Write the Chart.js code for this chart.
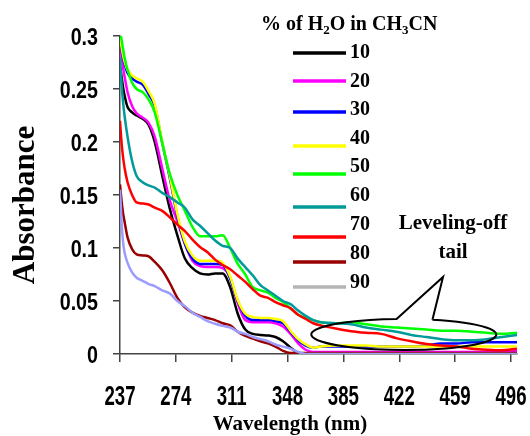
<!DOCTYPE html>
<html>
<head>
<meta charset="utf-8">
<script src="https://cdn.jsdelivr.net/npm/chart.js@4.4.0/dist/chart.umd.min.js"></script>
<style>
  html, body { margin: 0; padding: 0; background: #fff; }
  #wrap { width: 530px; height: 436px; }
</style>
</head>
<body>
<div id="wrap"><canvas id="spectra" width="530" height="436"></canvas></div>
<script>
// UV-vis spectra, absorbance vs wavelength for water/acetonitrile mixtures
const wavelengths = [237, 238, 239, 240, 242, 245, 248, 252, 256, 260,
  265, 270, 275, 280, 285, 290, 295, 300, 305, 310,
  315, 320, 325, 330, 335, 340, 345, 350, 355, 360,
  365, 370, 380, 390, 400, 410, 420, 430, 440, 450,
  460, 470, 480, 490, 500];

const water10 = [0.272, 0.262, 0.252, 0.244, 0.233, 0.228, 0.225, 0.222, 0.216, 0.200,
  0.168, 0.137, 0.112, 0.090, 0.081, 0.076, 0.075, 0.076, 0.076, 0.063,
  0.038, 0.023, 0.019, 0.018, 0.0175, 0.016, 0.012, 0.006, 0.001, 0,
  0, 0, 0, 0, 0, 0, 0, 0, 0, 0,
  0, 0, 0, 0, 0];
const water20 = [0.300, 0.282, 0.270, 0.262, 0.247, 0.234, 0.227, 0.223, 0.218, 0.205,
  0.175, 0.145, 0.125, 0.104, 0.088, 0.083, 0.082, 0.082, 0.081, 0.072,
  0.048, 0.032, 0.030, 0.030, 0.030, 0.029, 0.026, 0.019, 0.010, 0.004,
  0.002, 0.002, 0.002, 0.002, 0.002, 0.002, 0.002, 0.002, 0.002, 0.002,
  0.002, 0.002, 0.002, 0.002, 0.003];
const water30 = [0.300, 0.288, 0.280, 0.274, 0.265, 0.260, 0.257, 0.254, 0.245, 0.234,
  0.199, 0.166, 0.130, 0.104, 0.090, 0.085, 0.085, 0.085, 0.084, 0.071,
  0.050, 0.036, 0.032, 0.032, 0.032, 0.031, 0.029, 0.021, 0.013, 0.008,
  0.006, 0.007, 0.007, 0.007, 0.007, 0.007, 0.007, 0.007, 0.008, 0.010,
  0.010, 0.011, 0.011, 0.011, 0.011];
const water40 = [0.300, 0.290, 0.282, 0.276, 0.268, 0.263, 0.260, 0.257, 0.248, 0.236,
  0.200, 0.168, 0.132, 0.106, 0.093, 0.088, 0.088, 0.088, 0.086, 0.073,
  0.051, 0.038, 0.035, 0.034, 0.034, 0.033, 0.031, 0.022, 0.014, 0.009,
  0.006, 0.007, 0.008, 0.008, 0.008, 0.007, 0.007, 0.007, 0.007, 0.007,
  0.007, 0.007, 0.007, 0.007, 0.007];
const water50 = [0.306, 0.297, 0.288, 0.280, 0.268, 0.256, 0.250, 0.247, 0.240, 0.228,
  0.199, 0.170, 0.150, 0.135, 0.120, 0.111, 0.111, 0.111, 0.112, 0.100,
  0.085, 0.075, 0.063, 0.060, 0.058, 0.053, 0.049, 0.043, 0.037, 0.034,
  0.032, 0.030, 0.029, 0.030, 0.028, 0.026, 0.025, 0.024, 0.023, 0.022,
  0.022, 0.021, 0.020, 0.019, 0.020];
const water60 = [0.280, 0.255, 0.238, 0.225, 0.205, 0.182, 0.168, 0.162, 0.159, 0.157,
  0.152, 0.148, 0.143, 0.138, 0.127, 0.121, 0.114, 0.107, 0.102, 0.100,
  0.090, 0.082, 0.074, 0.065, 0.060, 0.055, 0.050, 0.047, 0.041, 0.036,
  0.032, 0.030, 0.029, 0.028, 0.025, 0.023, 0.021, 0.018, 0.016, 0.014,
  0.013, 0.013, 0.014, 0.016, 0.018];
const water70 = [0.220, 0.200, 0.186, 0.176, 0.162, 0.150, 0.143, 0.142, 0.141, 0.138,
  0.135, 0.129, 0.122, 0.116, 0.108, 0.101, 0.096, 0.089, 0.084, 0.080,
  0.074, 0.068, 0.061, 0.055, 0.053, 0.049, 0.046, 0.043, 0.037, 0.033,
  0.029, 0.027, 0.024, 0.0215, 0.020, 0.019, 0.015, 0.012, 0.0095, 0.008,
  0.007, 0.005, 0.004, 0.0035, 0.005];
const water80 = [0.160, 0.145, 0.133, 0.125, 0.110, 0.099, 0.094, 0.093, 0.092, 0.087,
  0.079, 0.067, 0.053, 0.044, 0.039, 0.036, 0.034, 0.032, 0.029, 0.027,
  0.021, 0.017, 0.0145, 0.012, 0.010, 0.007, 0.003, 0.001, 0.001, 0.001,
  0.001, 0.001, 0.001, 0.001, 0.001, 0.001, 0.001, 0.001, 0.001, 0.001,
  0.001, 0.001, 0.001, 0.001, 0.001];
const water90 = [0.155, 0.125, 0.106, 0.096, 0.086, 0.077, 0.072, 0.069, 0.066, 0.064,
  0.060, 0.057, 0.050, 0.045, 0.039, 0.035, 0.031, 0.0285, 0.0265, 0.025,
  0.021, 0.019, 0.016, 0.014, 0.012, 0.009, 0.007, 0.005, 0.002, 0,
  0, 0, 0, 0, 0, 0, 0, 0, 0, 0,
  0, 0, 0, 0, 0];

const seriesNames = ['10', '20', '30', '40', '50', '60', '70', '80', '90'];
const seriesValues = [water10, water20, water30, water40, water50, water60, water70, water80, water90];
const lineColors = ['#000000', '#ff00ff', '#0000ff', '#ffff00', '#00ff00', '#009a9a', '#ff0000', '#990000', '#9c9cff'];
const keyColors = ['#000000', '#ff00ff', '#0000ff', '#ffff00', '#00ff00', '#009a9a', '#ff0000', '#990000', '#b4b4b4'];

const xTicks = [237, 274, 311, 348, 385, 422, 459, 496];
const yTicks = [0, 0.05, 0.1, 0.15, 0.2, 0.25, 0.3];

// speech-bubble around the flat tail, in data units
const bubbleCenter = [425, 0.0184];
const bubbleRadius = [61.3, 0.0147];
const bubbleTip = [451, 0.0726];

const serif = '"Liberation Serif", "Times New Roman", serif';
const sans = '"Liberation Sans", Arial, sans-serif';

// hand-placed key: number baselines and swatch rows
const keyTextY = [58, 87, 115, 144, 172, 201, 230, 259, 288];
const keyLineY = [53, 81, 112, 146, 174, 207, 237, 262, 287];

// condensed tick text: bold sans squeezed horizontally
function narrowText(ctx, text, x, y, size, squeeze, align) {
  ctx.save();
  ctx.font = 'bold ' + size + 'px ' + sans;
  ctx.textAlign = align;
  ctx.textBaseline = 'alphabetic';
  ctx.translate(x, y);
  ctx.scale(squeeze, 1);
  ctx.fillText(text, 0, 0);
  ctx.restore();
}

const decor = {
  id: 'decor',
  afterDatasetsDraw(chart) {
    const ctx = chart.ctx;
    const xs = chart.scales.x, ys = chart.scales.y;
    const cx = xs.getPixelForValue(bubbleCenter[0]);
    const cy = ys.getPixelForValue(bubbleCenter[1]);
    const rx = xs.getPixelForValue(bubbleCenter[0] + bubbleRadius[0]) - cx;
    const ry = cy - ys.getPixelForValue(bubbleCenter[1] + bubbleRadius[1]);
    const tx = xs.getPixelForValue(bubbleTip[0]);
    const ty = ys.getPixelForValue(bubbleTip[1]);
    const a0 = -1.256, a1 = -1.649 + 2 * Math.PI;
    ctx.save();
    ctx.strokeStyle = '#000';
    ctx.lineWidth = 2;
    ctx.lineJoin = 'miter';
    ctx.beginPath();
    ctx.ellipse(cx, cy, rx, ry, 0, a0, a1);
    ctx.lineTo(tx, ty);
    ctx.lineTo(cx + rx * Math.cos(a0), cy + ry * Math.sin(a0));
    ctx.stroke();
    ctx.restore();
  },
  afterDraw(chart) {
    const ctx = chart.ctx;
    const xs = chart.scales.x, ys = chart.scales.y;
    ctx.save();
    ctx.fillStyle = '#000';

    // tick labels at the scale's own tick positions
    xs.ticks.forEach(t => {
      narrowText(ctx, String(t.value), xs.getPixelForValue(t.value), 405, 27, 0.69, 'center');
    });
    ys.ticks.forEach(t => {
      narrowText(ctx, String(+t.value.toFixed(2)), 98, ys.getPixelForValue(t.value) + 8.5, 24, 0.82, 'right');
    });

    // axis titles
    ctx.font = 'bold 31px ' + serif;
    ctx.textAlign = 'center';
    ctx.textBaseline = 'alphabetic';
    ctx.save();
    ctx.translate(34, 205);
    ctx.rotate(-Math.PI / 2);
    ctx.fillText('Absorbance', 0, 0);
    ctx.restore();
    ctx.font = 'bold 21px ' + serif;
    ctx.fillText('Wavelength (nm)', 290, 430);

    // key title with subscripts
    const parts = [['% of H', 0], ['2', 1], ['O in CH', 0], ['3', 1], ['CN', 0]];
    let x = 261;
    ctx.textAlign = 'left';
    parts.forEach(([t, sub]) => {
      ctx.font = sub ? 'bold 13px ' + serif : 'bold 20px ' + serif;
      ctx.fillText(t, x, sub ? 34 : 30);
      x += ctx.measureText(t).width;
    });

    // key rows
    seriesNames.forEach((name, i) => {
      ctx.strokeStyle = keyColors[i];
      ctx.lineWidth = 3.5;
      ctx.beginPath();
      ctx.moveTo(293, keyLineY[i]);
      ctx.lineTo(346, keyLineY[i]);
      ctx.stroke();
      ctx.font = 'bold 20px ' + serif;
      ctx.fillText(name, 350, keyTextY[i]);
    });

    // callout label
    ctx.textAlign = 'center';
    ctx.font = 'bold 21px ' + serif;
    ctx.fillText('Leveling-off', 453, 229);
    ctx.fillText('tail', 453, 258);
    ctx.restore();
  }
};

const datasets = seriesValues.map((vals, i) => ({
  label: seriesNames[i],
  data: wavelengths.map((w, j) => ({ x: w, y: vals[j] })),
  borderColor: lineColors[i],
  backgroundColor: lineColors[i],
  borderWidth: 2.5,
  pointRadius: 0,
  cubicInterpolationMode: 'monotone',
  fill: false,
  order: seriesNames.length - i
}));

const axisColor = '#444';

new Chart(document.getElementById('spectra'), {
  type: 'line',
  data: { datasets },
  options: {
    responsive: false,
    animation: false,
    layout: { padding: { top: 36, right: 13, left: 0, bottom: 0 } },
    plugins: { legend: { display: false }, tooltip: { enabled: false } },
    scales: {
      x: {
        type: 'linear',
        min: 237,
        max: 500,
        afterBuildTicks: axis => { axis.ticks = xTicks.map(v => ({ value: v })); },
        afterFit: axis => { axis.height = 82; },
        border: { display: true, color: axisColor, width: 1.5 },
        grid: { drawOnChartArea: false, drawTicks: true, tickLength: 8, color: axisColor, lineWidth: 1.5 },
        ticks: { display: false, autoSkip: false }
      },
      y: {
        min: 0,
        max: 0.3,
        afterBuildTicks: axis => { axis.ticks = yTicks.map(v => ({ value: v })); },
        afterFit: axis => { axis.width = 120; },
        border: { display: true, color: axisColor, width: 1.5 },
        grid: { drawOnChartArea: false, drawTicks: true, tickLength: 7, color: axisColor, lineWidth: 1.5 },
        ticks: { display: false, autoSkip: false }
      }
    }
  },
  plugins: [decor]
});
</script>
</body>
</html>
